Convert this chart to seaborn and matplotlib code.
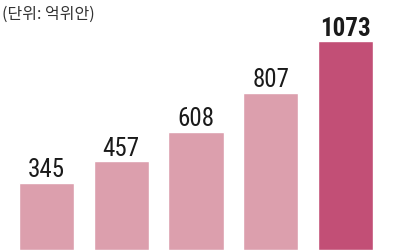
import matplotlib
matplotlib.use("Agg")
import matplotlib.pyplot as plt
import seaborn as sns
import pandas as pd

categories = ["1", "2", "3", "4", "5"]
values = [345, 457, 608, 807, 1073]
colors = ["#dc9fad", "#dc9fad", "#dc9fad", "#dc9fad", "#c24f76"]
unit_label = "(단위: 억위안)"

sns.set_theme(style="white")
plt.rcParams['font.family'] = ['Roboto Condensed', 'Archivo Narrow', 'Liberation Sans', 'DejaVu Sans']

df = pd.DataFrame({"cat": categories, "val": values})
fig = plt.figure(figsize=(4, 2.5), dpi=100)
ax = fig.add_axes([0, 0, 1, 1])
sns.barplot(data=df, x="cat", y="val", hue="cat", palette=colors, legend=False,
            width=0.74, saturation=1, ax=ax)
ax.set_xlim(-0.622, 4.729)
ax.set_ylim(0, 1285)
ax.axis("off")

for i, v in enumerate(values):
    ax.annotate(str(v), (i, v), xytext=(0, 4), textcoords="offset points",
                ha="center", va="baseline", fontsize=18,
                fontweight="bold" if i == len(values) - 1 else "normal",
                color="#1a1a1a")

fig.text(0.005, 0.975, unit_label, ha="left", va="top", fontsize=11.5,
         color="#333333", family=["Noto Sans CJK KR", "DejaVu Sans"])

fig.savefig("out.png", dpi=100)
